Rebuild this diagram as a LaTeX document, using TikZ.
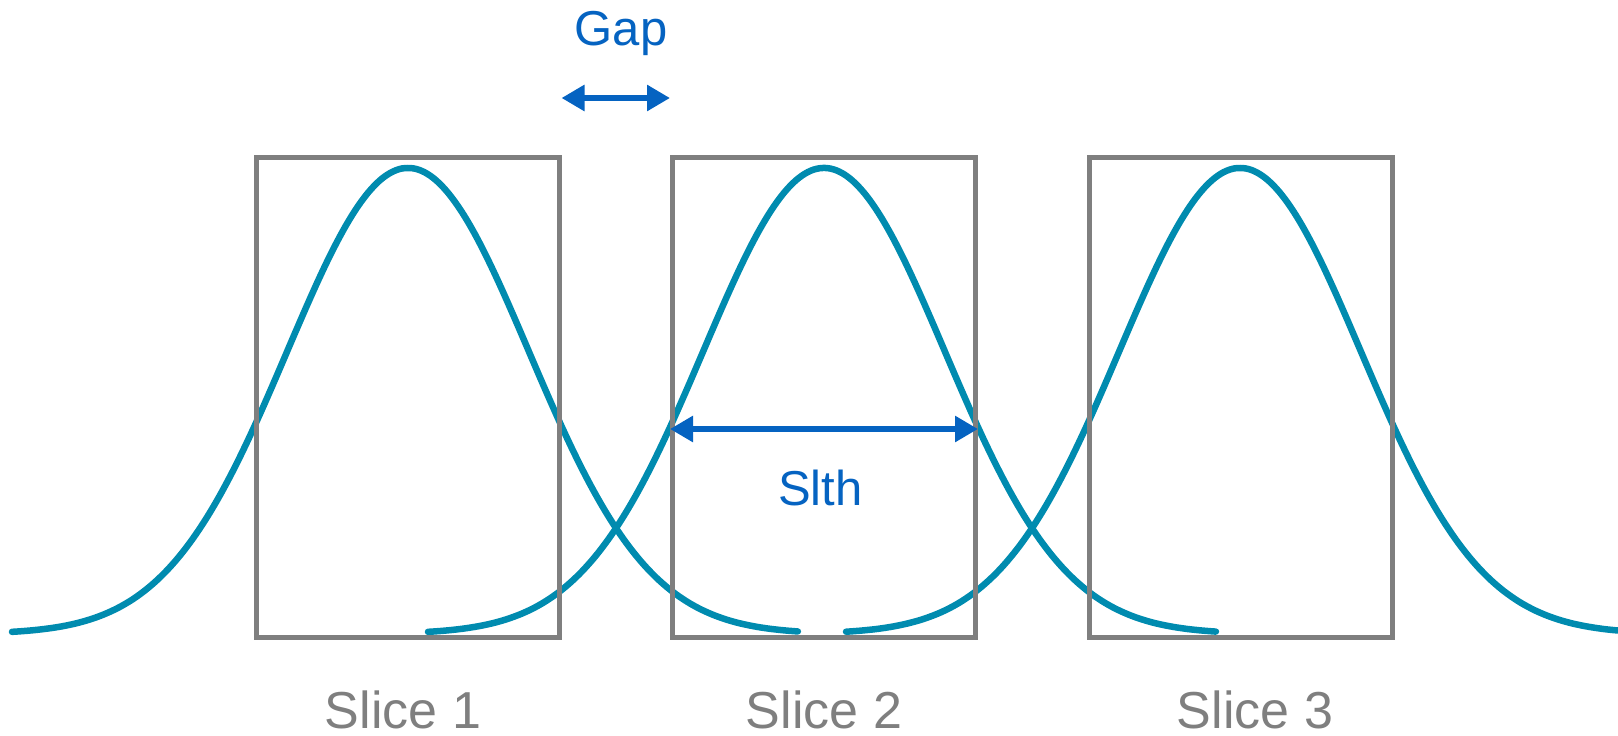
\documentclass[tikz,border=0pt]{standalone}
\usepackage{fontspec}
\setmainfont{Liberation Sans}
\usetikzlibrary{arrows.meta,positioning}
\definecolor{slgray}{HTML}{7F7F7F}
\definecolor{slblue}{HTML}{0563C1}
\definecolor{slteal}{HTML}{008BAF}
\tikzset{
  slicebox/.style={draw=slgray,line width=5pt,minimum width=303pt,minimum height=480pt,inner sep=0pt},
  profile/.style={draw=slteal,line width=6.5pt,line cap=round,smooth},
  dimar/.style={{Triangle[length=23pt,width=25pt]}-{Triangle[length=23pt,width=25pt]},draw=slblue,line width=6pt},
  dimlab/.style={text=slblue,font=\fontsize{49}{58}\selectfont,inner sep=0pt},
  slicelab/.style={text=slgray,font=\fontsize{52}{62}\selectfont,inner sep=0pt},
}
\begin{document}
\begin{tikzpicture}[x=1pt,y=-1pt]
  \useasboundingbox (0,0) rectangle (1618,736);
  % slice profiles
  \draw[profile] plot[domain=-3.96:3.90,samples=140] ({408+100*\x},{634-466*exp(-0.3426*\x*\x)});
  \draw[profile] plot[domain=-3.96:3.92,samples=140] ({824+100*\x},{634-466*exp(-0.3426*\x*\x)});
  \draw[profile] plot[domain=-3.94:3.78,samples=140] ({1240+100*\x},{634-466*exp(-0.3426*\x*\x)});
  % slices
  \node[slicebox] (s1) at (407.5,397.5) {};
  \node[slicebox] (s2) at (824,397.5) {};
  \node[slicebox] (s3) at (1240.5,397.5) {};
  \node[slicelab] (l1) at (403,710) {Slice 1};
  \node[slicelab] (l2) at (824,710) {Slice 2};
  \node[slicelab] (l3) at (1255,710) {Slice 3};
  % gap and thickness
  \coordinate (gapy) at (0,98);
  \coordinate (slthy) at (0,429);
  \draw[dimar] (s1.east |- gapy) -- (s2.west |- gapy);
  \draw[dimar] (s2.west |- slthy) -- (s2.east |- slthy);
  \node[dimlab] (gap) at (621,33.5) {Gap};
  \node[dimlab] (slth) at (820.5,487.5) {Slth};
\end{tikzpicture}
\end{document}
